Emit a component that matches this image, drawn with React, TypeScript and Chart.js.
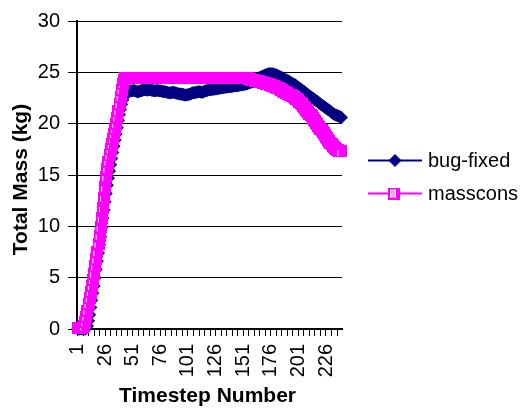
import React, { useEffect, useRef } from 'react';
import { Chart, registerables } from 'chart.js';

Chart.register(...registerables);

const FONT = '"Liberation Sans", Arial, Helvetica, sans-serif';
const NAVY = '#000080';
const MAGENTA = '#FF00FF';

const STEP_COUNT = 240;
const timesteps: number[] = Array.from({ length: STEP_COUNT }, (_, i) => i + 1);

const xTickLabels: number[] = [1, 26, 51, 76, 101, 126, 151, 176, 201, 226];
const xTickMarkEvery = 5;
const yTicks: number[] = [0, 5, 10, 15, 20, 25, 30];

const seriesNames: string[] = ['bug-fixed', 'masscons'];

const bugFixed: number[] = [
  0, 0, 0, 0, 0, 0, 0, 0, 0.1, 0.3,
  0.8, 1.4, 2.1, 2.8, 3.5, 4.2, 5.0, 5.8, 6.6, 7.4,
  8.2, 9.0, 9.9, 10.8, 11.6, 12.4, 13.2, 14.0, 14.7, 15.4,
  16.0, 16.6, 17.2, 17.8, 18.4, 19.0, 19.6, 20.3, 20.9, 21.4,
  21.9, 22.3, 22.6, 22.8, 22.95, 23.05, 23.1, 23.15, 23.2, 23.2,
  23.2, 23.25, 23.2, 23.15, 23.1, 23.1, 23.15, 23.2, 23.2, 23.25,
  23.3, 23.3, 23.3, 23.25, 23.3, 23.3, 23.3, 23.25, 23.25, 23.2,
  23.2, 23.2, 23.25, 23.2, 23.2, 23.2, 23.15, 23.15, 23.1, 23.1,
  23.1, 23.05, 23.0, 23.0, 23.0, 23.0, 23.05, 23.05, 23.0, 23.0,
  22.95, 22.95, 22.9, 22.9, 22.9, 22.85, 22.85, 22.8, 22.8, 22.8,
  22.85, 22.85, 22.9, 22.95, 23.0, 23.0, 23.0, 23.05, 23.05, 23.1,
  23.1, 23.1, 23.05, 23.05, 23.1, 23.15, 23.2, 23.2, 23.25, 23.3,
  23.3, 23.3, 23.35, 23.35, 23.35, 23.4, 23.4, 23.4, 23.45, 23.45,
  23.5, 23.5, 23.5, 23.55, 23.55, 23.55, 23.6, 23.6, 23.6, 23.6,
  23.65, 23.65, 23.7, 23.7, 23.7, 23.7, 23.75, 23.75, 23.8, 23.8,
  23.8, 23.85, 23.85, 23.9, 23.9, 23.95, 24.0, 24.0, 24.05, 24.1,
  24.15, 24.2, 24.3, 24.35, 24.45, 24.5, 24.55, 24.6, 24.65, 24.7,
  24.75, 24.8, 24.8, 24.85, 24.85, 24.85, 24.85, 24.85, 24.8, 24.8,
  24.75, 24.7, 24.65, 24.6, 24.55, 24.5, 24.45, 24.4, 24.3, 24.25,
  24.2, 24.15, 24.1, 24.0, 23.95, 23.9, 23.85, 23.8, 23.7, 23.6,
  23.55, 23.45, 23.4, 23.3, 23.2, 23.15, 23.05, 22.95, 22.9, 22.8,
  22.7, 22.65, 22.55, 22.5, 22.4, 22.3, 22.25, 22.15, 22.1, 22.0,
  21.9, 21.85, 21.75, 21.7, 21.6, 21.5, 21.45, 21.35, 21.3, 21.2,
  21.1, 21.05, 20.95, 20.9, 20.85, 20.8, 20.75, 20.7, 20.65, 20.6,
];

const masscons: number[] = [
  0.1, 0.1, 0.1, 0.1, 0.1, 0.15, 0.3, 0.7, 1.2, 1.8,
  2.4, 3.0, 3.6, 4.2, 4.8, 5.4, 6.1, 6.8, 7.5, 8.3,
  9.1, 9.9, 10.8, 11.8, 12.8, 13.8, 14.8, 15.6, 16.3, 16.9,
  17.5, 18.0, 18.5, 19.0, 19.5, 20.0, 20.6, 21.2, 21.9, 22.6,
  23.3, 23.9, 24.3, 24.4, 24.45, 24.45, 24.45, 24.45, 24.45, 24.45,
  24.45, 24.45, 24.45, 24.45, 24.45, 24.45, 24.45, 24.45, 24.45, 24.45,
  24.45, 24.45, 24.45, 24.45, 24.45, 24.45, 24.45, 24.45, 24.45, 24.45,
  24.45, 24.45, 24.45, 24.45, 24.45, 24.45, 24.45, 24.45, 24.45, 24.45,
  24.45, 24.45, 24.45, 24.45, 24.45, 24.45, 24.45, 24.45, 24.45, 24.45,
  24.45, 24.45, 24.45, 24.45, 24.45, 24.45, 24.45, 24.45, 24.45, 24.45,
  24.45, 24.45, 24.45, 24.45, 24.45, 24.45, 24.45, 24.45, 24.45, 24.45,
  24.45, 24.45, 24.45, 24.45, 24.45, 24.45, 24.45, 24.45, 24.45, 24.45,
  24.45, 24.45, 24.45, 24.45, 24.45, 24.45, 24.45, 24.45, 24.45, 24.45,
  24.45, 24.45, 24.45, 24.45, 24.45, 24.45, 24.45, 24.45, 24.45, 24.45,
  24.45, 24.45, 24.45, 24.45, 24.45, 24.45, 24.45, 24.45, 24.45, 24.45,
  24.45, 24.45, 24.4, 24.4, 24.4, 24.35, 24.35, 24.3, 24.3, 24.3,
  24.25, 24.2, 24.2, 24.15, 24.15, 24.1, 24.1, 24.05, 24.0, 24.0,
  23.95, 23.9, 23.9, 23.85, 23.8, 23.75, 23.7, 23.7, 23.65, 23.6,
  23.55, 23.5, 23.45, 23.4, 23.3, 23.25, 23.2, 23.1, 23.05, 23.0,
  22.95, 22.9, 22.8, 22.75, 22.7, 22.65, 22.6, 22.5, 22.45, 22.4,
  22.3, 22.15, 22.0, 21.9, 21.75, 21.6, 21.5, 21.35, 21.2, 21.1,
  20.95, 20.8, 20.7, 20.55, 20.4, 20.25, 20.1, 19.95, 19.8, 19.65,
  19.5, 19.35, 19.2, 19.05, 18.9, 18.75, 18.6, 18.45, 18.3, 18.15,
  18.0, 17.85, 17.7, 17.6, 17.5, 17.45, 17.4, 17.35, 17.3, 17.3,
];

const xTitle = 'Timestep Number';
const yTitle = 'Total Mass (kg)';

function makeSquareMarker(legend: boolean): HTMLCanvasElement {
  const c = document.createElement('canvas');
  c.width = 12;
  c.height = 12;
  const g = c.getContext('2d')!;
  g.fillStyle = MAGENTA;
  g.fillRect(0, 0, 12, 12);
  g.strokeStyle = '#FFFFFF';
  g.lineWidth = 1;
  if (legend) {
    g.fillStyle = '#FF9CFF';
    g.fillRect(3, 3, 4, 6);
    g.strokeRect(2.5, 2.5, 5, 7);
  } else {
    g.beginPath();
    g.moveTo(2.5, 5);
    g.lineTo(2.5, 10);
    g.stroke();
  }
  return c;
}

function drawDiamond(ctx: CanvasRenderingContext2D, x: number, y: number, r: number) {
  ctx.beginPath();
  ctx.moveTo(x, y - r);
  ctx.lineTo(x + r, y);
  ctx.lineTo(x, y + r);
  ctx.lineTo(x - r, y);
  ctx.closePath();
  ctx.fill();
}

export default function App() {
  const ref = useRef<HTMLCanvasElement>(null);

  useEffect(() => {
    document.body.style.margin = '0';
    const canvas = ref.current;
    if (!canvas) return;
    const square = makeSquareMarker(false);
    const legendSquare = makeSquareMarker(true);

    const overlay = {
      id: 'overlay',
      afterDraw(chart: any) {
        const ctx: CanvasRenderingContext2D = chart.ctx;
        const area = chart.chartArea;
        ctx.save();
        ctx.fillStyle = '#000';
        ctx.font = `bold 21px ${FONT}`;
        ctx.textAlign = 'center';
        ctx.textBaseline = 'alphabetic';
        ctx.fillText(xTitle, (area.left + area.right) / 2 - 2, 402);
        ctx.save();
        ctx.translate(26.7, (area.top + area.bottom) / 2 + 4.5);
        ctx.rotate(-Math.PI / 2);
        ctx.fillText(yTitle, 0, 0);
        ctx.restore();

        const rows = [160.5, 193.5];
        const colors = [NAVY, MAGENTA];
        ctx.font = `20px ${FONT}`;
        ctx.textAlign = 'left';
        rows.forEach((ry, i) => {
          ctx.strokeStyle = colors[i];
          ctx.lineWidth = 2;
          ctx.beginPath();
          ctx.moveTo(368, ry);
          ctx.lineTo(422, ry);
          ctx.stroke();
          if (i === 0) {
            ctx.fillStyle = NAVY;
            drawDiamond(ctx, 395, ry, 6.5);
          } else {
            ctx.drawImage(legendSquare, 388, ry - 6);
          }
          ctx.fillStyle = '#000';
          ctx.fillText(seriesNames[i], 428, ry + 6);
        });
        ctx.restore();
      },
    };

    const chart = new Chart(canvas, {
      type: 'line',
      data: {
        datasets: [
          {
            label: seriesNames[0],
            data: bugFixed.map((y, i) => ({ x: timesteps[i], y })),
            borderColor: NAVY,
            backgroundColor: NAVY,
            borderWidth: 2,
            pointStyle: 'rectRot',
            pointRadius: 6.5,
            pointBorderWidth: 0,
            pointBackgroundColor: NAVY,
            pointBorderColor: NAVY,
            clip: false,
            order: 2,
          } as any,
          {
            label: seriesNames[1],
            data: masscons.map((y, i) => ({ x: timesteps[i], y })),
            borderColor: MAGENTA,
            backgroundColor: MAGENTA,
            borderWidth: 2,
            pointStyle: square,
            pointRadius: 6,
            clip: false,
            order: 1,
          } as any,
        ],
      },
      options: {
        animation: false,
        responsive: false,
        devicePixelRatio: 1,
        layout: { padding: { top: 21, right: 179, left: 0, bottom: 0 } },
        plugins: {
          legend: { display: false },
          tooltip: { enabled: false },
          title: { display: false },
        },
        scales: {
          x: {
            type: 'linear',
            min: 0.5,
            max: STEP_COUNT + 0.5,
            afterBuildTicks: (s: any) => {
              s.ticks = timesteps
                .filter((t) => (t - 1) % xTickMarkEvery === 0)
                .map((v) => ({ value: v }));
            },
            afterFit: (s: any) => {
              s.height = 80;
            },
            ticks: {
              autoSkip: false,
              minRotation: 90,
              maxRotation: 90,
              padding: 8,
              color: '#000',
              font: { family: FONT, size: 20 },
              callback: (v: any) => (xTickLabels.includes(Number(v)) ? String(v) : ''),
            },
            grid: { drawOnChartArea: false, tickLength: 7, color: '#000', lineWidth: 1 },
            border: { color: '#000', width: 2 },
          },
          y: {
            min: yTicks[0],
            max: yTicks[yTicks.length - 1],
            afterBuildTicks: (s: any) => {
              s.ticks = yTicks.map((v) => ({ value: v }));
            },
            afterFit: (s: any) => {
              s.width = 77;
            },
            ticks: {
              padding: 8,
              color: '#000',
              font: { family: FONT, size: 20 },
            },
            grid: { color: '#000', lineWidth: 1, tickLength: 9 },
            border: { color: '#000', width: 2 },
          },
        },
      } as any,
      plugins: [overlay],
    });

    return () => chart.destroy();
  }, []);

  return (
    <div style={{ position: 'absolute', left: 0, top: 0, width: 521, height: 409, background: '#fff' }}>
      <canvas ref={ref} width={521} height={409} style={{ display: 'block', width: 521, height: 409 }} />
    </div>
  );
}
